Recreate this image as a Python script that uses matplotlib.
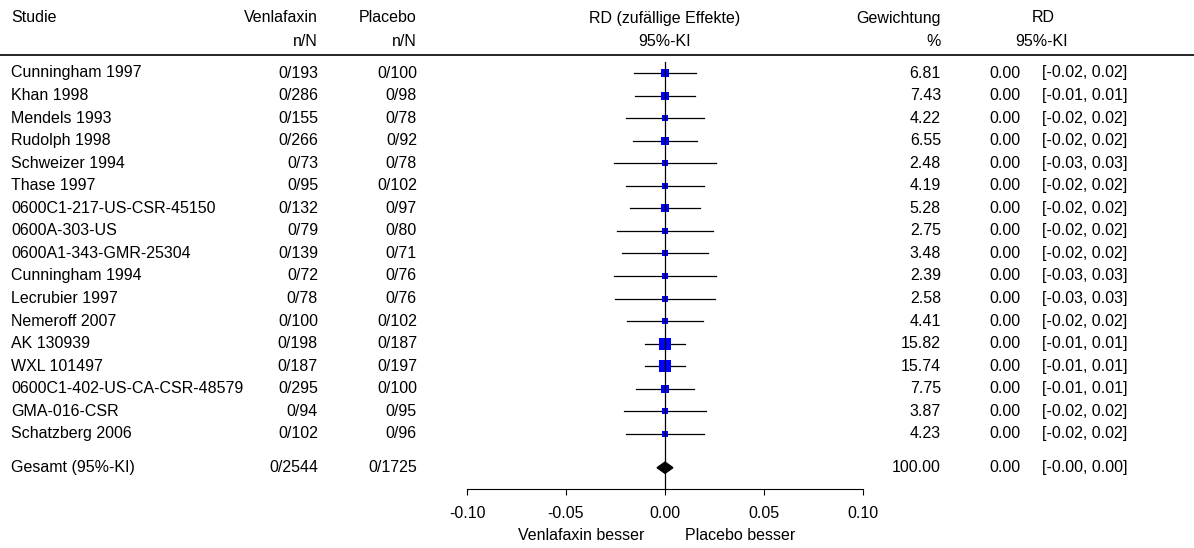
import numpy as np
import matplotlib
matplotlib.use('Agg')
import matplotlib.pyplot as plt
import matplotlib.transforms as mtransforms
from matplotlib.patches import Polygon

plt.rcParams['font.family'] = ['Liberation Sans', 'DejaVu Sans']
plt.rcParams['font.size'] = 11.5

# data
studies = ['Cunningham 1997', 'Khan 1998', 'Mendels 1993', 'Rudolph 1998',
           'Schweizer 1994', 'Thase 1997', '0600C1-217-US-CSR-45150',
           '0600A-303-US', '0600A1-343-GMR-25304', 'Cunningham 1994',
           'Lecrubier 1997', 'Nemeroff 2007', 'AK 130939', 'WXL 101497',
           '0600C1-402-US-CA-CSR-48579', 'GMA-016-CSR', 'Schatzberg 2006']
venla_n = [0] * 17
venla_N = [193, 286, 155, 266, 73, 95, 132, 79, 139, 72, 78, 100, 198, 187, 295, 94, 102]
plac_n = [0] * 17
plac_N = [100, 98, 78, 92, 78, 102, 97, 80, 71, 76, 76, 102, 187, 197, 100, 95, 96]
weights = [6.81, 7.43, 4.22, 6.55, 2.48, 4.19, 5.28, 2.75, 3.48, 2.39,
           2.58, 4.41, 15.82, 15.74, 7.75, 3.87, 4.23]
rd = [0.0] * 17
ci_lo = [-0.0157, -0.0149, -0.0196, -0.0160, -0.0258, -0.0198, -0.0176, -0.0243,
         -0.0217, -0.0260, -0.0252, -0.0193, -0.0102, -0.0103, -0.0146, -0.0207, -0.0197]
ci_hi = [0.0157, 0.0149, 0.0196, 0.0160, 0.0258, 0.0198, 0.0176, 0.0243,
         0.0217, 0.0260, 0.0252, 0.0193, 0.0102, 0.0103, 0.0146, 0.0207, 0.0197]

total_label = 'Gesamt (95%-KI)'
total_venla = '0/2544'
total_plac = '0/1725'
total_weight = 100.00
total_rd = 0.0
total_lo = -0.004
total_hi = 0.004

xticks = [-0.10, -0.05, 0.00, 0.05, 0.10]

W, H = 1194, 548
fig = plt.figure(figsize=(W / 100, H / 100), dpi=100)

# rows: pixel y = 73 + 22.55 * r
row0, rowh = 73.0, 22.55
def r_of(py):
    return (py - row0) / rowh

ax = fig.add_axes([467 / W, 0, 396 / W, 1])
ax.set_xlim(-0.1, 0.1)
ax.set_ylim(r_of(H), r_of(0))
ax.patch.set_visible(False)
for s in ['top', 'left', 'right']:
    ax.spines[s].set_visible(False)
axis_r = r_of(489)
ax.spines['bottom'].set_position(('data', axis_r))
ax.spines['bottom'].set_bounds(-0.1, 0.1)
ax.spines['bottom'].set_linewidth(0.8)
ax.set_yticks([])
ax.set_xticks(xticks)
ax.set_xticklabels(['%.2f' % t for t in xticks])
ax.tick_params(axis='x', direction='out', length=4.3, width=0.8, pad=8, labelsize=11.5)

tr = mtransforms.blended_transform_factory(fig.transFigure, ax.transData)

def col(px):
    return px / W

# header
hy1, hy2 = r_of(18), r_of(42)
ax.text(col(11), hy1, 'Studie', transform=tr, ha='left', va='center')
ax.text(col(318), hy1, 'Venlafaxin', transform=tr, ha='right', va='center')
ax.text(col(318), hy2, 'n/N', transform=tr, ha='right', va='center')
ax.text(col(417), hy1, 'Placebo', transform=tr, ha='right', va='center')
ax.text(col(417), hy2, 'n/N', transform=tr, ha='right', va='center')
ax.text(col(665), hy1, 'RD (zufällige Effekte)', transform=tr, ha='center', va='center')
ax.text(col(665), hy2, '95%-KI', transform=tr, ha='center', va='center')
ax.text(col(941), hy1, 'Gewichtung', transform=tr, ha='right', va='center')
ax.text(col(941), hy2, '%', transform=tr, ha='right', va='center')
ax.text(col(1043), hy1, 'RD', transform=tr, ha='center', va='center')
ax.text(col(1042), hy2, '95%-KI', transform=tr, ha='center', va='center')
ax.plot([0, 1], [r_of(54.5), r_of(54.5)], transform=tr, color='black', lw=1.2, clip_on=False)

# zero line
ax.plot([0, 0], [r_of(61.7), axis_r], color='black', lw=0.9, zorder=3)

for i, name in enumerate(studies):
    ax.plot([ci_lo[i], ci_hi[i]], [i, i], color='black', lw=0.9, zorder=2)
    side = (1 + 11.3 * np.sqrt(weights[i] / 15.82)) * 0.72
    ax.plot(rd[i], i, marker='s', color='blue', markersize=side, markeredgewidth=0, zorder=2)
    ax.text(col(11), i, name, transform=tr, ha='left', va='center')
    ax.text(col(318), i, '%d/%d' % (venla_n[i], venla_N[i]), transform=tr, ha='right', va='center')
    ax.text(col(417), i, '%d/%d' % (plac_n[i], plac_N[i]), transform=tr, ha='right', va='center')
    ax.text(col(941), i, '%.2f' % weights[i], transform=tr, ha='right', va='center')
    ax.text(col(1021), i, '%.2f' % rd[i], transform=tr, ha='right', va='center')
    ax.text(col(1042), i, '[%.2f, %.2f]' % (ci_lo[i], ci_hi[i]), transform=tr, ha='left', va='center')

# overall
tr_r = r_of(467.7)
dh = 0.25
ax.add_patch(Polygon([[total_lo, tr_r], [total_rd, tr_r - dh], [total_hi, tr_r], [total_rd, tr_r + dh]],
                     closed=True, color='black', zorder=4))
ax.text(col(11), tr_r, total_label, transform=tr, ha='left', va='center')
ax.text(col(318), tr_r, total_venla, transform=tr, ha='right', va='center')
ax.text(col(417), tr_r, total_plac, transform=tr, ha='right', va='center')
ax.text(col(941), tr_r, '%.2f' % total_weight, transform=tr, ha='right', va='center')
ax.text(col(1021), tr_r, '%.2f' % total_rd, transform=tr, ha='right', va='center')
ax.text(col(1042), tr_r, '[%.2f, %.2f]' % (total_lo, total_hi), transform=tr, ha='left', va='center')

ly = r_of(535)
ax.text(col(644), ly, 'Venlafaxin besser', transform=tr, ha='right', va='center')
ax.text(col(685), ly, 'Placebo besser', transform=tr, ha='left', va='center')

fig.savefig('out.png', dpi=100)
